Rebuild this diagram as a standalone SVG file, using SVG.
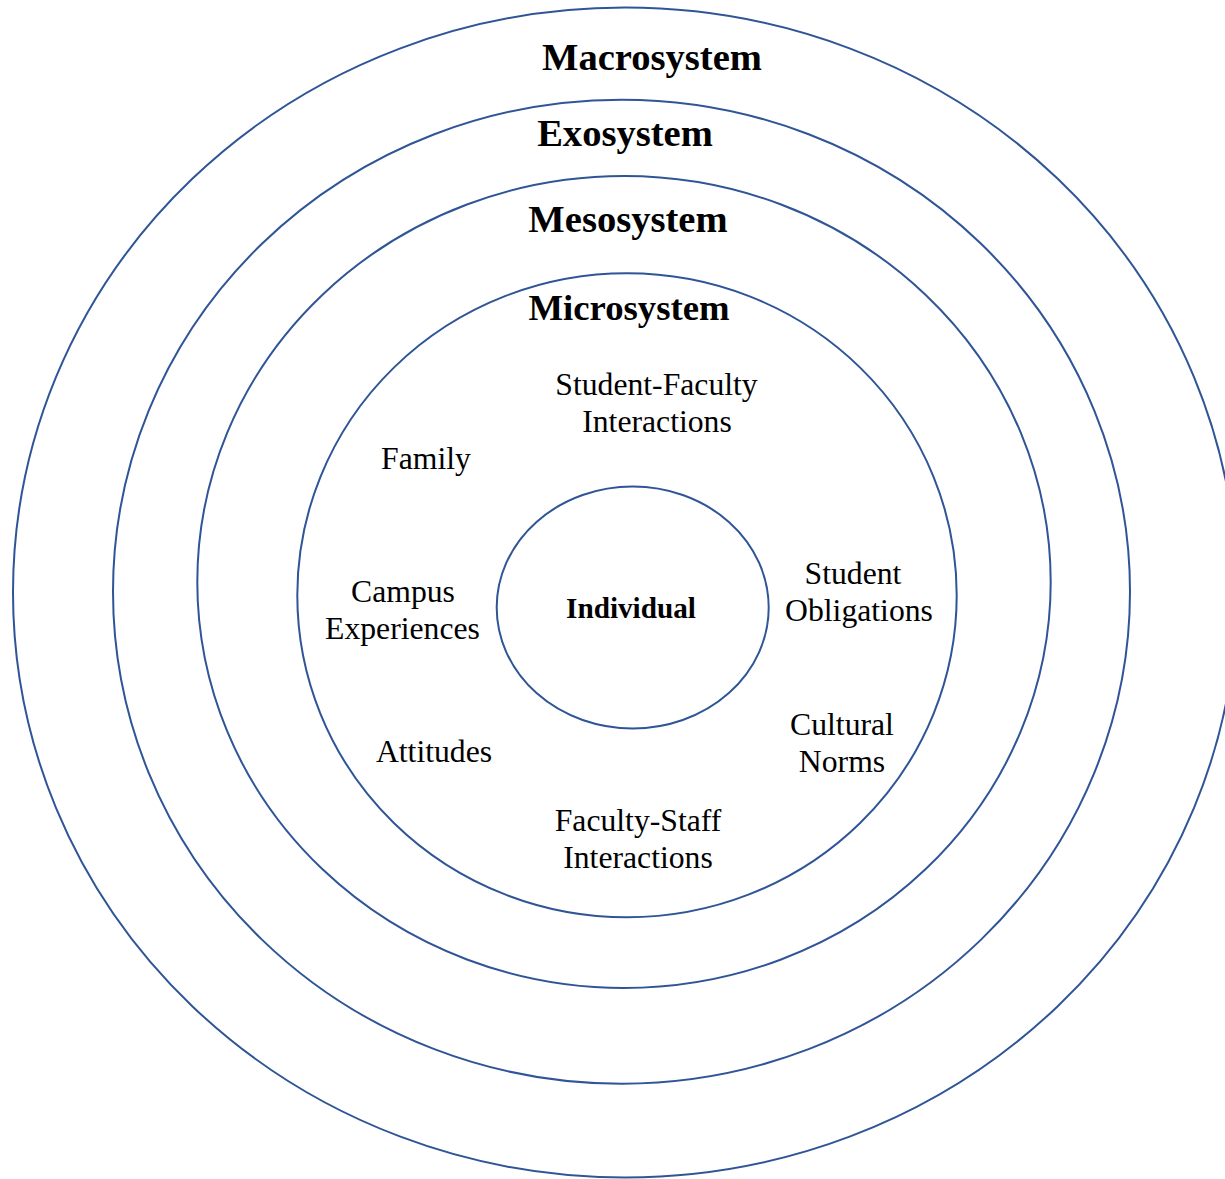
<svg xmlns="http://www.w3.org/2000/svg" width="1225" height="1179" viewBox="0 0 1225 1179">
<style>
.ring{fill:none;stroke:#2F5597;stroke-width:2}
.h{font-family:"Liberation Serif","Times New Roman",serif;font-weight:bold;fill:#000;text-anchor:middle}
.t{font-family:"Liberation Serif","Times New Roman",serif;font-size:31.7px;fill:#000;text-anchor:middle}
</style>
<rect width="1225" height="1179" fill="#fff"/>
<g id="macrosystem">
<ellipse class="ring" cx="625" cy="592.5" rx="612" ry="585"/>
<text class="h" x="652" y="70" font-size="38.6">Macrosystem</text>
</g>
<g id="exosystem">
<ellipse class="ring" cx="621.5" cy="591.7" rx="508.5" ry="492"/>
<text class="h" x="625" y="146" font-size="38.6">Exosystem</text>
</g>
<g id="mesosystem">
<ellipse class="ring" cx="624" cy="582" rx="426.7" ry="406"/>
<text class="h" x="628" y="232" font-size="38.6">Mesosystem</text>
</g>
<g id="microsystem">
<ellipse class="ring" cx="627" cy="595.3" rx="329.7" ry="322"/>
<text class="h" x="629" y="320" font-size="36.7">Microsystem</text>
</g>
<g id="individual">
<ellipse class="ring" cx="632.7" cy="607.5" rx="136" ry="121"/>
<text class="h" x="631" y="618" font-size="29.2">Individual</text>
</g>
<g id="labels">
<text class="t" x="656.5" y="395">Student-Faculty</text>
<text class="t" x="657" y="432">Interactions</text>
<text class="t" x="426" y="469">Family</text>
<text class="t" x="403" y="602">Campus</text>
<text class="t" x="402.5" y="639">Experiences</text>
<text class="t" x="853" y="584">Student</text>
<text class="t" x="859" y="621">Obligations</text>
<text class="t" x="434" y="762">Attitudes</text>
<text class="t" x="842" y="735">Cultural</text>
<text class="t" x="842" y="772">Norms</text>
<text class="t" x="638" y="831">Faculty-Staff</text>
<text class="t" x="638" y="868">Interactions</text>
</g>
<g id="connectors"></g>
</svg>
